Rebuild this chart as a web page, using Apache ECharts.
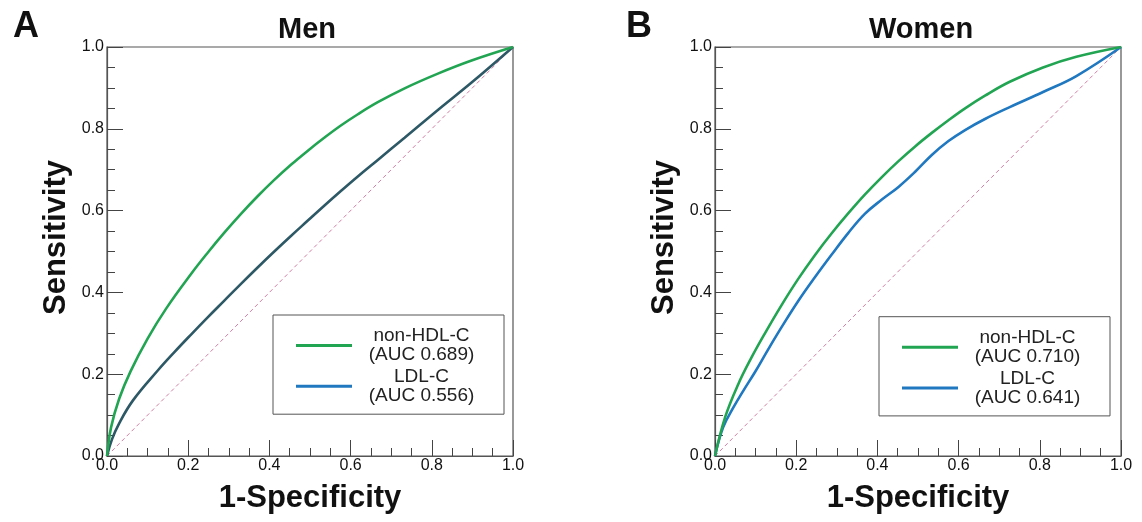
<!DOCTYPE html>
<html>
<head>
<meta charset="utf-8">
<script src="https://cdn.jsdelivr.net/npm/echarts@6/dist/echarts.min.js"></script>
<style>
html,body{margin:0;padding:0;background:#fff;}
#chart{width:1142px;height:522px;}
</style>
</head>
<body>
<div id="chart"></div>
<script>
// ---- data (1-Specificity, Sensitivity) ----
const tickLabels = ['0.0','0.2','0.4','0.6','0.8','1.0'];
const diagX = [0, 1];
const diagY = [0, 1];

// Men, non-HDL-C (AUC 0.689)
const menNonHdlX = [0, 0.01, 0.03, 0.058, 0.1, 0.146, 0.207, 0.248, 0.289, 0.33, 0.371, 0.412, 0.453, 0.494, 0.535, 0.576, 0.617, 0.667, 0.733, 0.815, 0.898, 1];
const menNonHdlY = [0, 0.07, 0.14, 0.207, 0.287, 0.361, 0.445, 0.497, 0.546, 0.592, 0.635, 0.675, 0.712, 0.746, 0.778, 0.808, 0.835, 0.865, 0.899, 0.935, 0.967, 1];
// Men, LDL-C (AUC 0.556)
const menLdlX = [0, 0.012, 0.03, 0.064, 0.125, 0.166, 0.207, 0.248, 0.289, 0.33, 0.371, 0.412, 0.453, 0.494, 0.535, 0.576, 0.617, 0.667, 0.733, 0.815, 0.898, 1];
const menLdlY = [0, 0.04, 0.08, 0.136, 0.209, 0.254, 0.297, 0.339, 0.38, 0.421, 0.461, 0.5, 0.538, 0.575, 0.612, 0.648, 0.683, 0.724, 0.778, 0.846, 0.913, 1];
// Women, non-HDL-C (AUC 0.710)
const womenNonHdlX = [0, 0.025, 0.057, 0.09, 0.123, 0.164, 0.205, 0.246, 0.287, 0.328, 0.369, 0.411, 0.452, 0.493, 0.534, 0.575, 0.616, 0.665, 0.726, 0.808, 0.89, 1];
const womenNonHdlY = [0, 0.095, 0.175, 0.241, 0.3, 0.369, 0.433, 0.491, 0.544, 0.593, 0.639, 0.682, 0.721, 0.757, 0.79, 0.821, 0.85, 0.881, 0.915, 0.95, 0.976, 1];
// Women, LDL-C (AUC 0.641)
const womenLdlX = [0, 0.02, 0.045, 0.07, 0.099, 0.13, 0.164, 0.205, 0.246, 0.287, 0.328, 0.369, 0.411, 0.452, 0.493, 0.534, 0.575, 0.616, 0.665, 0.726, 0.808, 0.89, 1];
const womenLdlY = [0, 0.07, 0.118, 0.16, 0.206, 0.259, 0.315, 0.379, 0.437, 0.492, 0.545, 0.592, 0.627, 0.658, 0.695, 0.736, 0.77, 0.797, 0.824, 0.853, 0.89, 0.929, 1];

const pairs = (xs, ys) => xs.map((x, i) => [x, ys[i]]);

const FONT = 'Liberation Sans, Arial, sans-serif';
const GREEN = '#22a552';
const BLUE = '#1f78c0';
const MEN_LDL_LINE = '#2d5866';
const DIAG = '#d27ea2';

function xAxis(gi) {
  return {
    type: 'value', gridIndex: gi, min: 0, max: 1, interval: 0.2,
    axisLine: {show: true, onZero: false, lineStyle: {color: '#555', width: 1.2}},
    axisTick: {show: true, inside: true, length: 16, lineStyle: {color: '#444', width: 1}},
    minorTick: {show: true, splitNumber: 4, length: 8, lineStyle: {color: '#444', width: 1}},
    splitLine: {show: false}, minorSplitLine: {show: false},
    axisLabel: {margin: 2, fontSize: 16, color: '#111', fontFamily: FONT,
      formatter: v => tickLabels[Math.round(v / 0.2)]},
    name: '1-Specificity', nameLocation: 'middle', nameGap: 27,
    nameTextStyle: {fontSize: 31, fontWeight: 'bold', color: '#111', fontFamily: FONT}
  };
}
function yAxis(gi) {
  return {
    type: 'value', gridIndex: gi, min: 0, max: 1, interval: 0.2,
    axisLine: {show: true, onZero: false, lineStyle: {color: '#555', width: 1.2}},
    axisTick: {show: true, inside: true, length: 16, lineStyle: {color: '#444', width: 1}},
    minorTick: {show: true, splitNumber: 4, length: 8, lineStyle: {color: '#444', width: 1}},
    splitLine: {show: false}, minorSplitLine: {show: false},
    axisLabel: {margin: 3, fontSize: 16, color: '#111', fontFamily: FONT,
      formatter: v => tickLabels[Math.round(v / 0.2)]},
    name: 'Sensitivity', nameLocation: 'middle', nameGap: 35,
    nameTextStyle: {fontSize: 31, fontWeight: 'bold', color: '#111', fontFamily: FONT, padding: [0, 0, 0, 28]}
  };
}
function legend(left, top, names) {
  return {
    left: left, top: top, orient: 'vertical',
    padding: [11.5, 18, 9, 23], itemGap: 2.7,
    backgroundColor: '#fff', borderColor: '#555', borderWidth: 1,
    icon: 'rect', itemWidth: 56, itemHeight: 3, selectedMode: false,
    textStyle: {fontSize: 19, lineHeight: 19, color: '#222', fontFamily: FONT,
      rich: {t: {width: 129, align: 'center', fontSize: 19, lineHeight: 19, color: '#222', fontFamily: FONT}}},
    formatter: name => name.replace(' (', '\n(').split('\n').map(s => '{t|' + s + '}').join('\n'),
    data: names
  };
}
function curve(name, xi, yi, xs, ys, color) {
  return {
    name: name, type: 'line', xAxisIndex: xi, yAxisIndex: yi,
    data: pairs(xs, ys), smooth: 0.4, showSymbol: false, symbol: 'none',
    lineStyle: {color: color, width: 2.6}, itemStyle: {color: color}, z: 3
  };
}
function diag(xi) {
  return {
    type: 'line', xAxisIndex: xi, yAxisIndex: xi, data: pairs(diagX, diagY),
    showSymbol: false, symbol: 'none', silent: true,
    lineStyle: {color: DIAG, width: 1, type: [4, 3]}, z: 2
  };
}

const chart = echarts.init(document.getElementById('chart'), null, {renderer: 'canvas'});
chart.setOption({
  backgroundColor: '#fff',
  animation: false,
  title: [
    {text: 'A', left: 13, top: 9.5, padding: 0, textStyle: {fontSize: 36, fontWeight: 'bold', color: '#111', fontFamily: FONT}},
    {text: 'Men', left: 278, top: 15, padding: 0, textStyle: {fontSize: 29, fontWeight: 'bold', color: '#111', fontFamily: FONT}},
    {text: 'B', left: 626, top: 9.5, padding: 0, textStyle: {fontSize: 36, fontWeight: 'bold', color: '#111', fontFamily: FONT}},
    {text: 'Women', left: 869, top: 15, padding: 0, textStyle: {fontSize: 29, fontWeight: 'bold', color: '#111', fontFamily: FONT}}
  ],
  grid: [
    {left: 107, top: 47, width: 406, height: 409, show: true, borderColor: '#555', borderWidth: 1.2, backgroundColor: 'transparent'},
    {left: 715, top: 47, width: 406, height: 409, show: true, borderColor: '#555', borderWidth: 1.2, backgroundColor: 'transparent'}
  ],
  xAxis: [xAxis(0), xAxis(1)],
  yAxis: [yAxis(0), yAxis(1)],
  legend: [
    legend(273, 315, [
      {name: 'non-HDL-C (AUC 0.689)', itemStyle: {color: GREEN}},
      {name: 'LDL-C (AUC 0.556)', itemStyle: {color: BLUE}}
    ]),
    legend(879, 316.7, [
      {name: 'non-HDL-C (AUC 0.710)', itemStyle: {color: GREEN}},
      {name: 'LDL-C (AUC 0.641)', itemStyle: {color: BLUE}}
    ])
  ],
  series: [
    diag(0),
    curve('LDL-C (AUC 0.556)', 0, 0, menLdlX, menLdlY, MEN_LDL_LINE),
    curve('non-HDL-C (AUC 0.689)', 0, 0, menNonHdlX, menNonHdlY, GREEN),
    diag(1),
    curve('LDL-C (AUC 0.641)', 1, 1, womenLdlX, womenLdlY, BLUE),
    curve('non-HDL-C (AUC 0.710)', 1, 1, womenNonHdlX, womenNonHdlY, GREEN)
  ]
});
</script>
</body>
</html>
